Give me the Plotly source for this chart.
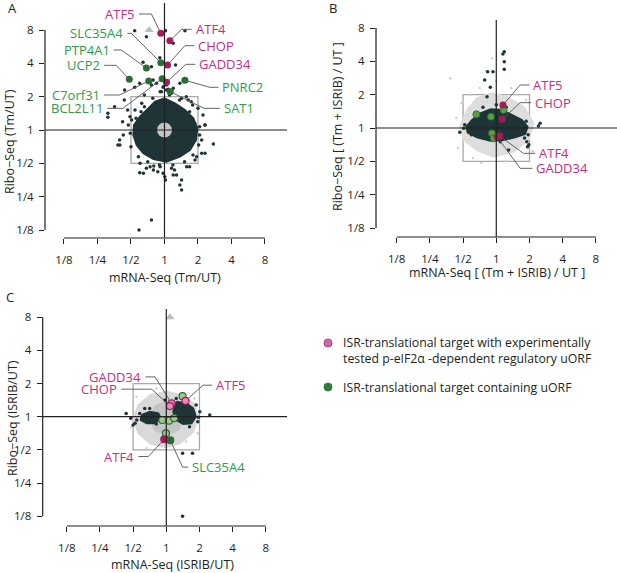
import plotly.graph_objects as go

# every value below is a log2 fold change
tick_vals = [-3, -2, -1, 0, 1, 2, 3]
tick_text = ["1/8", "1/4", "1/2", "1", "2", "4", "8"]

# ---------------- A : Tm / UT
a_cloud_x = [0.0, 0.31, 0.61, 0.86, 0.98, 0.94, 0.76, 0.46, 0.06, -0.33, -0.63, -0.83, -0.93, -0.91,
             -0.73, -0.48, -0.28]
a_cloud_y = [0.95, 0.8, 0.6, 0.35, 0.05, -0.3, -0.6, -0.8, -0.95, -0.87, -0.7, -0.45, -0.15, 0.15,
             0.4, 0.65, 0.85]
a_dot_x = [-0.89, -0.54, 0.03, 0.61, 0.26, -0.14, -0.64, -0.39, 0.33, -1.19, -0.89, -0.74, -0.39, -0.24,
           -0.04, -0.09, 0.06, 0.11, 0.26, 0.46, -0.34, -1.69, -1.69, -1.49, -1.2, -1.1, 1.21, 1.46, 1.11,
           0.96, 1.15, -0.74, -0.54, -0.32, -0.04, 0.03, 0.26, 0.51, 0.46, 0.51, -0.39, -0.76, -1.39, -1.34,
           -1.25, 0.8, 0.65, -0.6, 1.0, 0.3, -0.2, 0.75,
           -1.23, -1.33, -1.08, -1.03, 1.21, 1.11, 1.21, -0.73, -0.43, -0.13, 0.21, -0.63, -0.33, 0.01,
           0.36, 0.66, 0.91, 0.84, 0.71, 0.51, -0.68, -0.88, -0.13, 0.06, -0.03,
           1.05, 1.02, 0.85, 0.6, 0.25, -0.15, -0.5, -0.78, -1.0, -1.02, -0.85, -0.6, -0.35, 0.15, 0.45,
           0.75, 1.05, -0.98, 0.9, -0.7]
a_dot_y = [2.98, 2.8, 2.98, 2.98, 2.6, 2.17, 2.03, 1.9, 1.95, 1.2, 1.28, 1.4, 1.35, 1.4,
           1.28, 1.15, 1.35, 1.22, 1.25, 1.4, 1.5, 0.5, 0.38, 0.7, 0.9, 0.6, 0.15, -0.42, -0.7,
           -0.8, 0.45, -1.28, -1.15, -1.08, -1.3, -1.5, -1.35, -1.5, -1.65, -1.8, -2.7, -3.0, -0.45, -0.3,
           0.25, 0.85, 1.0, 1.05, 0.65, -1.2, -1.25, -1.1,
           -0.15, -0.45, 0.15, 0.4, 0.15, -0.3, -0.7, -1.0, -1.1, -1.1, -1.15, -1.3, -1.2, -1.4,
           -1.35, -1.1, -0.9, 0.75, 0.9, 0.95, 0.8, 0.6, 1.15, 1.2, 1.3,
           0.1, -0.45, -0.75, -0.95, -1.05, -1.05, -0.95, -0.8, -0.5, -0.1, 0.35, 0.7, 0.95, 1.05, 0.9,
           0.55, -0.15, 0.3, 0.2, 0.55]
a_genes = ["ATF5", "ATF4", "CHOP", "GADD34", "SLC35A4", "PTP4A1", "UCP2", "C7orf31", "BCL2L11", "PNRC2", "SAT1"]
a_kind = ["isr", "isr", "isr", "isr", "uorf", "uorf", "uorf", "uorf", "uorf", "uorf", "uorf"]
a_gene_x = [-0.11, 0.16, 0.09, 0.06, -0.11, -0.54, -1.05, -0.47, -0.07, 0.61, 0.17]
a_gene_y = [2.9, 2.68, 1.95, 1.43, 2.02, 1.86, 1.52, 1.47, 1.54, 1.49, 1.15]
a_off_x = [-0.46]   # clipped gene, drawn as a triangle at the top
a_off_y = [3.0]

# ---------------- B : (Tm + ISRIB) / UT
b_grey_x = [-0.18, 0.32, 0.82, 1.12, 0.97, 0.52, -0.08, -0.58, -0.98, -1.08, -0.88, -0.58]
b_grey_y = [1.04, 0.94, 0.64, 0.14, -0.36, -0.71, -0.86, -0.66, -0.36, 0.04, 0.54, 0.89]
b_gpt_x = [-1.38, -0.13, -0.5, -0.8, -1.2, 0.6, -1.15, 0.3, 1.1, -0.7, 0.0, -0.3, -1.05, 0.45, -0.45, 0.9]
b_gpt_y = [1.49, 2.09, 1.2, 1.0, 0.3, 1.0, -0.6, -1.0, -0.7, -0.9, 1.4, 1.7, 0.75, 1.2, -1.05, 0.85]
b_cloud_x = [-0.18, 0.17, 0.47, 0.77, 0.94, 0.87, 0.57, 0.22, -0.18, -0.58, -0.86, -0.9, -0.73, -0.48]
b_cloud_y = [0.56, 0.54, 0.39, 0.24, 0.04, -0.18, -0.28, -0.36, -0.38, -0.28, -0.14, 0.04, 0.24, 0.44]
b_dot_x = [0.24, 0.2, 0.24, 0.24, -0.26, -0.1, -0.35, -0.18, -0.28, 1.32, 1.27, -1.1, -0.98, 0.94,
           0.92, 0.37, 0.12, 0.98, 0.85, -0.95, -0.4, 0.0, 0.3, 0.96, 0.9, -0.75]
b_dot_y = [2.29, 2.22, 1.99, 1.76, 1.69, 1.69, 1.44, 1.22, 0.94, 0.14, 0.06, -0.13, -0.01, -0.56,
           -0.41, -0.66, -0.41, -0.5, -0.3, 0.1, 0.62, 0.7, 0.62, -0.2, 0.2, -0.2]
b_genes = ["ATF5", "CHOP", "ATF4", "GADD34", "", "", "", "", ""]
b_kind = ["isr", "isr", "isr", "isr", "uorf", "uorf", "uorf", "uorf", "uorf"]
b_gene_x = [0.2, 0.18, 0.1, 0.02, -0.6, -0.16, 0.22, -0.13, -0.08]
b_gene_y = [0.69, 0.26, -0.24, -0.26, 0.41, 0.34, 0.54, -0.16, -0.31]

# ---------------- C : ISRIB / UT
c_grey_x = [0.01, 0.46, 0.81, 0.96, 0.81, 0.41, -0.04, -0.49, -0.84, -0.99, -0.84, -0.49]
c_grey_y = [0.75, 0.65, 0.4, 0.0, -0.45, -0.8, -0.92, -0.8, -0.5, -0.05, 0.35, 0.65]
c_core_x = [0.01, 0.36, 0.51, 0.36, 0.01, -0.34, -0.49, -0.34]
c_core_y = [0.45, 0.35, 0.0, -0.4, -0.55, -0.4, -0.05, 0.32]
c_right_x = [0.31, 0.61, 0.81, 0.89, 0.76, 0.51, 0.31, 0.21]
c_right_y = [0.45, 0.4, 0.25, 0.0, -0.2, -0.22, -0.1, 0.15]
c_left_x = [-0.74, -0.49, -0.24, -0.17, -0.34, -0.59, -0.77]
c_left_y = [0.05, 0.15, 0.1, -0.05, -0.2, -0.2, -0.1]
c_gpt_x = [-0.9, 0.85, -0.3, 0.6, -1.05, 0.2, -0.6, 0.95]
c_gpt_y = [0.6, 0.55, 0.85, -0.75, -0.3, -1.0, -0.95, -0.5]
c_dot_x = [-1.21, -1.07, -0.94, -0.89, 1.31, 0.49, 0.79, 0.49, 1.01, 0.97, -0.04, 0.9, 0.95, 0.3,
           -0.8, -0.65, 0.7, -1.0, -0.5, -0.3]
c_dot_y = [0.1, -0.05, -0.2, -0.1, 0.05, -1.1, -1.1, -3.0, 0.15, -0.02, 0.5, 0.35, -0.15, 0.55,
           0.1, 0.25, -0.3, -0.25, 0.25, -0.22]
c_genes = ["GADD34", "CHOP", "ATF5", "ATF4", "SLC35A4", "", "", "", "", ""]
c_kind = ["isr", "isr", "isr", "isr", "uorf", "uorf", "uorf", "uorf", "uorf", "uorf"]
c_gene_x = [0.16, 0.11, 0.58, -0.06, 0.12, 0.49, -0.01, -0.12, 0.08, 0.24]
c_gene_y = [0.4, 0.32, 0.48, -0.68, -0.71, 0.62, -0.5, -0.1, -0.12, -0.04]
c_filled = [False, False, False, True, True, False, False, False, False, False]
c_off_x = [0.11]
c_off_y = [3.0]

# label placement: gene -> (elbow x, elbow y, text x, side of text)
a_labels = {
    "ATF5": (-0.39, 3.48, -0.76, "right"), "ATF4": (0.51, 3.02, 0.81, "left"),
    "CHOP": (0.61, 2.53, 0.89, "left"), "GADD34": (0.64, 1.97, 0.92, "left"),
    "SLC35A4": (-0.99, 2.9, -1.11, "right"), "PTP4A1": (-1.29, 2.4, -1.52, "right"),
    "UCP2": (-1.44, 1.94, -1.81, "right"), "C7orf31": (-1.34, 1.05, -1.81, "right"),
    "BCL2L11": (-1.24, 0.65, -1.71, "right"), "PNRC2": (1.36, 1.28, 1.61, "left"),
    "SAT1": (1.18, 0.65, 1.66, "left"),
}
b_labels = {
    "ATF5": (0.72, 1.29, 1.0, "left"), "CHOP": (0.72, 0.76, 1.05, "left"),
    "ATF4": (0.82, -0.76, 1.17, "left"), "GADD34": (0.72, -1.21, 1.09, "left"),
}
c_labels = {
    "GADD34": (-0.34, 1.2, -0.63, "right"), "CHOP": (-0.44, 0.83, -1.36, "right"),
    "ATF5": (1.11, 0.95, 1.38, "left"), "ATF4": (-0.54, -1.2, -0.84, "right"),
    "SLC35A4": (0.49, -1.52, 0.66, "left"),
}

W, H = 617, 573
FONT = "Open Sans"
DARK = "#1e3436"
INK = "#231f20"
ISR_TXT, ISR_DOT, ISR_LIGHT = "#c2317f", "#a8195c", "#e08cbc"
UORF_TXT, UORF_DOT, UORF_LIGHT = "#2f9a4b", "#2b6b37", "#9fca8c"


def px(x):
    return x / W


def py(y):
    return 1 - y / H


fig = go.Figure()

# panel frames in pixels: left, right, top, bottom and the axis ranges
panels = [
    dict(n="", dom_x=(45, 287), dom_y=(3, 238), rx=(-3.567, 3.657), ry=(-3.24, 3.81)),
    dict(n="2", dom_x=(376, 617), dom_y=(20, 237), rx=(-3.623, 3.636), ry=(-3.27, 3.24)),
    dict(n="3", dom_x=(42.7, 287), dom_y=(309, 526), rx=(-3.726, 3.639), ry=(-3.295, 3.247)),
]


def poly(ax, xs, ys, color):
    fig.add_trace(go.Scatter(x=xs + xs[:1], y=ys + ys[:1], xaxis="x" + ax, yaxis="y" + ax,
                             mode="lines", fill="toself", fillcolor=color,
                             line=dict(color=color, width=2), hoverinfo="skip"))


def dots(ax, xs, ys, color, size=3.5, symbol="circle", line=None):
    fig.add_trace(go.Scatter(x=xs, y=ys, xaxis="x" + ax, yaxis="y" + ax, mode="markers",
                             marker=dict(color=color, size=size, symbol=symbol,
                                         line=line or dict(width=0)),
                             hoverinfo="skip"))


def labels(ax, genes, gx, gy, kinds, layout):
    lx, ly = [], []
    for g, x, y in zip(genes, gx, gy):
        if g not in layout:
            continue
        ex, ey, tx, side = layout[g]
        lx += [x, ex, tx, None]
        ly += [y, ey, ey, None]
    fig.add_trace(go.Scatter(x=lx, y=ly, xaxis="x" + ax, yaxis="y" + ax, mode="lines",
                             line=dict(color="#555555", width=0.9), hoverinfo="skip"))
    for g, k in zip(genes, kinds):
        if g not in layout:
            continue
        ex, ey, tx, side = layout[g]
        fig.add_annotation(x=tx, y=ey, xref="x" + ax, yref="y" + ax, text=g, showarrow=False,
                           xanchor=side, yanchor="middle", xshift=2 if side == "left" else -2,
                           font=dict(family=FONT, size=13,
                                     color=ISR_TXT if k == "isr" else UORF_TXT))


# ---- A
poly("", a_cloud_x, a_cloud_y, DARK)
dots("", a_dot_x, a_dot_y, DARK)
dots("", [0], [0], "#c4c4c4", size=15)
dots("", a_off_x, a_off_y, "#bdbdbd", size=8, symbol="triangle-up")
labels("", a_genes, a_gene_x, a_gene_y, a_kind, a_labels)
for kind, col in (("uorf", UORF_DOT), ("isr", ISR_DOT)):
    dots("", [x for x, k in zip(a_gene_x, a_kind) if k == kind],
         [y for y, k in zip(a_gene_y, a_kind) if k == kind], col, size=7)

# ---- B
poly("2", b_grey_x, b_grey_y, "#dddddd")
dots("2", b_gpt_x, b_gpt_y, "#cfcfcf", size=2.5)
poly("2", b_cloud_x, b_cloud_y, DARK)
dots("2", b_dot_x, b_dot_y, DARK)
labels("2", b_genes, b_gene_x, b_gene_y, b_kind, b_labels)
dots("2", [x for x, k in zip(b_gene_x, b_kind) if k == "uorf"],
     [y for y, k in zip(b_gene_y, b_kind) if k == "uorf"], "#55a03c", size=7,
     line=dict(color=UORF_DOT, width=0.8))
dots("2", [x for x, k in zip(b_gene_x, b_kind) if k == "isr"],
     [y for y, k in zip(b_gene_y, b_kind) if k == "isr"], ISR_DOT, size=7)

# ---- C
poly("3", c_grey_x, c_grey_y, "#d9d9d9")
poly("3", c_core_x, c_core_y, "#c4c4c4")
dots("3", c_gpt_x, c_gpt_y, "#cfcfcf", size=2.5)
poly("3", c_right_x, c_right_y, DARK)
poly("3", c_left_x, c_left_y, DARK)
dots("3", c_dot_x, c_dot_y, DARK)
dots("3", c_off_x, c_off_y, "#bdbdbd", size=8, symbol="triangle-up")
labels("3", c_genes, c_gene_x, c_gene_y, c_kind, c_labels)
for kind, dark, light in (("uorf", UORF_DOT, UORF_LIGHT), ("isr", ISR_DOT, ISR_LIGHT)):
    sel = [i for i, k in enumerate(c_kind) if k == kind]
    dots("3", [c_gene_x[i] for i in sel], [c_gene_y[i] for i in sel],
         [dark if c_filled[i] else light for i in sel], size=7,
         line=dict(color=dark, width=1.2))

# axes, spines, reference lines and the 2x box
shapes = []
for p in panels:
    n = p["n"]
    ax_common = dict(showgrid=False, zeroline=False, showline=False, ticks="outside", ticklen=5,
                     tickwidth=1, tickcolor=INK, tickvals=tick_vals, ticktext=tick_text,
                     tickfont=dict(family=FONT, size=11.5, color=INK), fixedrange=True)
    fig.update_layout(**{
        "xaxis" + n: dict(ax_common, domain=[px(p["dom_x"][0]), px(p["dom_x"][1])], range=p["rx"],
                          anchor="y" + n, ticklabelstandoff=6),
        "yaxis" + n: dict(ax_common, domain=[py(p["dom_y"][1]), py(p["dom_y"][0])], range=p["ry"],
                          anchor="x" + n, ticklabelstandoff=3),
    })
    xr, yr = "x" + n, "y" + n
    shapes += [
        dict(type="rect", xref=xr, yref=yr, x0=-1, x1=1, y0=-1, y1=1, layer="below",
             line=dict(color="#a8a8a8", width=1.3)),
        dict(type="line", xref=xr, yref=yr + " domain", x0=-3, x1=3, y0=0, y1=0,
             line=dict(color=INK, width=1.2)),
        dict(type="line", xref=xr + " domain", yref=yr, x0=0, x1=0, y0=-3, y1=3,
             line=dict(color=INK, width=1.2)),
        dict(type="line", xref=xr, yref=yr + " domain", x0=0, x1=0, y0=0, y1=1,
             line=dict(color=INK, width=1.2)),
        dict(type="line", xref=xr + " domain", yref=yr, x0=0, x1=1, y0=0, y1=0,
             line=dict(color=INK, width=1.2)),
    ]

# legend dots
for cy, fill, edge in ((343, "#cc6aa3", "#b0417f"), (387, "#2e7d3b", "#2e7d3b")):
    shapes.append(dict(type="circle", xref="paper", yref="paper", x0=px(324), x1=px(332),
                       y0=py(cy + 4), y1=py(cy - 4), fillcolor=fill, line=dict(color=edge, width=1)))

fig.update_layout(shapes=shapes)

texts = [
    ("A", 12, 8, 0, 13), ("B", 333, 8, 0, 13), ("C", 10, 297, 0, 13),
    ("Ribo−Seq (Tm/UT)", 10, 142, -90, 12.5), ("mRNA-Seq (Tm/UT)", 165, 277, 0, 12.5),
    ("Ribo−Seq [ (Tm + ISRIB) / UT ]", 337, 127, -90, 12.5),
    ("mRNA-Seq [ (Tm + ISRIB) / UT ]", 497, 272, 0, 12.5),
    ("Ribo−Seq (ISRIB/UT)", 12, 418, -90, 12.5), ("mRNA-Seq (ISRIB/UT)", 172, 564, 0, 12.5),
]
for t, x, y, rot, size in texts:
    fig.add_annotation(x=px(x), y=py(y), xref="paper", yref="paper", text=t, showarrow=False,
                       textangle=rot, xanchor="center", yanchor="middle",
                       font=dict(family=FONT, size=size, color=INK))

legend_lines = [
    ("ISR-translational target with experimentally", 343),
    ("tested p-eIF2α -dependent regulatory uORF", 358),
    ("ISR-translational target containing uORF", 387),
]
for t, y in legend_lines:
    fig.add_annotation(x=px(341), y=py(y), xref="paper", yref="paper", text=t, showarrow=False,
                       xanchor="left", yanchor="middle", font=dict(family=FONT, size=12.3, color=INK))

fig.update_layout(width=W, height=H, margin=dict(l=0, r=0, t=0, b=0), showlegend=False,
                  plot_bgcolor="white", paper_bgcolor="white")

# the page's default 8px body margin would push the figure off its frame
fig.write_html("out.html", config={"displayModeBar": False},
               post_script="document.body.style.margin = '0px';")
